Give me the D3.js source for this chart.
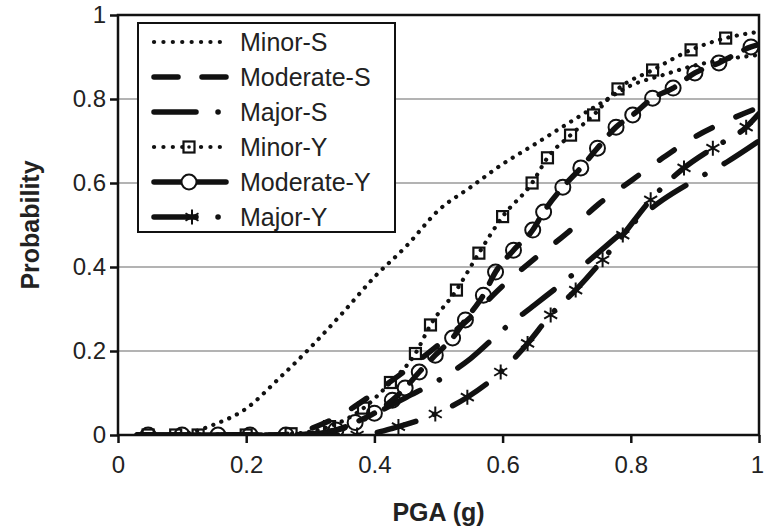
<!DOCTYPE html>
<html>
<head>
<meta charset="utf-8">
<script src="https://cdn.jsdelivr.net/npm/d3@7"></script>
<style>
  body { margin: 0; background: #fff; }
  svg { font-family: "Liberation Sans", Arial, sans-serif; }
</style>
</head>
<body>
<div id="chart"></div>
<script>
// ---- data ----
const seriesNames = ["Minor-S", "Moderate-S", "Major-S", "Minor-Y", "Moderate-Y", "Major-Y"];

// S curves share one PGA grid
const pgaS = [0.03, 0.05, 0.1, 0.15, 0.2, 0.25, 0.3, 0.35, 0.4, 0.45, 0.5, 0.55, 0.6, 0.65, 0.7, 0.75, 0.8, 0.85, 0.9, 0.95, 1.0];
const minorS    = [0, 0, 0.003, 0.025, 0.063, 0.133, 0.208, 0.29, 0.376, 0.45, 0.535, 0.59, 0.645, 0.692, 0.74, 0.787, 0.832, 0.857, 0.88, 0.895, 0.905];
const moderateS = [0, 0, 0, 0, 0, 0, 0.015, 0.05, 0.1, 0.155, 0.215, 0.28, 0.355, 0.42, 0.48, 0.55, 0.605, 0.66, 0.71, 0.748, 0.78];
const majorS    = [0, 0, 0, 0, 0, 0, 0.002, 0.015, 0.05, 0.09, 0.13, 0.182, 0.25, 0.31, 0.37, 0.435, 0.5, 0.56, 0.607, 0.65, 0.70];

// Y curves, at the marker positions
const pgaMinorY = [0.03, 0.047, 0.09, 0.125, 0.2, 0.27, 0.33, 0.383, 0.425, 0.464, 0.4875, 0.528, 0.563, 0.6, 0.646, 0.67, 0.706, 0.742, 0.78, 0.834, 0.894, 0.948, 1.0];
const minorY    = [0, 0, 0, 0, 0, 0.003, 0.02, 0.064, 0.125, 0.194, 0.262, 0.345, 0.433, 0.52, 0.6, 0.66, 0.714, 0.762, 0.824, 0.869, 0.917, 0.945, 0.96];

const pgaModY = [0.03, 0.047, 0.1, 0.156, 0.206, 0.262, 0.34, 0.37, 0.4, 0.428, 0.448, 0.47, 0.495, 0.522, 0.542, 0.57, 0.589, 0.617, 0.647, 0.664, 0.694, 0.722, 0.748, 0.777, 0.803, 0.834, 0.866, 0.9, 0.9375, 0.9875, 1.0];
const moderateY = [0, 0, 0, 0, 0, 0, 0.012, 0.03, 0.052, 0.083, 0.112, 0.15, 0.19, 0.231, 0.274, 0.333, 0.388, 0.44, 0.488, 0.531, 0.59, 0.636, 0.683, 0.733, 0.762, 0.802, 0.826, 0.862, 0.886, 0.924, 0.93];

const pgaMajY = [0.03, 0.31, 0.373, 0.4375, 0.495, 0.545, 0.597, 0.639, 0.675, 0.714, 0.756, 0.7875, 0.831, 0.883, 0.928, 0.98, 1.0];
const majorY  = [0, 0, 0, 0.02, 0.05, 0.09, 0.15, 0.218, 0.286, 0.345, 0.417, 0.476, 0.56, 0.636, 0.683, 0.733, 0.765];

const xTicks = [0, 0.2, 0.4, 0.6, 0.8, 1];
const yTicks = [0, 0.2, 0.4, 0.6, 0.8, 1];
const gridValues = [0.2, 0.4, 0.6, 0.8];

// ---- layout ----
const W = 764, H = 529;
const margin = { top: 15, left: 118, right: 5, bottom: 94 };
const width = W - margin.left - margin.right;
const height = H - margin.top - margin.bottom;

const svg = d3.select("#chart").append("svg")
    .attr("width", W)
    .attr("height", H);

const g = svg.append("g")
    .attr("transform", "translate(" + margin.left + "," + margin.top + ")");

const x = d3.scaleLinear().domain([0, 1]).range([0, width]);
const y = d3.scaleLinear().domain([0, 1]).range([height, 0]);

// gridlines
g.selectAll(".grid").data(gridValues).enter().append("line")
    .attr("x1", 0).attr("x2", width)
    .attr("y1", d => y(d)).attr("y2", d => y(d))
    .attr("stroke", "#9a9a9a")
    .attr("stroke-width", 1.5);

const fmt = d => (d === 0 || d === 1) ? String(d) : d.toFixed(1);

// axes
const xAxis = g.append("g")
    .attr("transform", "translate(0," + height + ")")
    .call(d3.axisBottom(x).tickValues(xTicks).tickFormat(fmt).tickSize(8).tickPadding(13));
const yAxis = g.append("g")
    .call(d3.axisLeft(y).tickValues(yTicks).tickFormat(fmt).tickSize(8).tickPadding(4));
[xAxis, yAxis].forEach(a => {
    a.select(".domain").remove();
    a.selectAll(".tick line").attr("stroke", "#111").attr("stroke-width", 2.5);
    a.selectAll(".tick text")
        .attr("fill", "#222")
        .style("font-size", "24px")
        .style("font-family", "Liberation Sans, Arial, sans-serif");
});
// keep the last x label inside the page
xAxis.selectAll(".tick text").filter(d => d === 1).attr("dx", "-2px");

// clip curves to plot
svg.append("defs").append("clipPath").attr("id", "plotclip")
    .append("rect").attr("x", 0).attr("y", -5).attr("width", width).attr("height", height + 5);

const plot = g.append("g").attr("clip-path", "url(#plotclip)");

const line = d3.line()
    .x(d => x(d[0]))
    .y(d => y(d[1]))
    .curve(d3.curveMonotoneX);

const zip = (xs, ys) => xs.map((v, i) => [v, ys[i]]);

const styles = {
    "Minor-S":    { w: 4.2, dash: "0.1 8.5" },
    "Moderate-S": { w: 5.5, dash: "18 26" },
    "Major-S":    { w: 5.5, dash: "40 22 0.1 22" },
    "Minor-Y":    { w: 4.2, dash: "0.1 8.5" },
    "Moderate-Y": { w: 5.5, dash: "17 15" },
    "Major-Y":    { w: 5.5, dash: "40 20 0.1 20" }
};

const curves = [
    { name: "Minor-S",    pts: zip(pgaS, minorS) },
    { name: "Moderate-S", pts: zip(pgaS, moderateS) },
    { name: "Major-S",    pts: zip(pgaS, majorS) },
    { name: "Minor-Y",    pts: zip(pgaMinorY, minorY), marker: "square" },
    { name: "Moderate-Y", pts: zip(pgaModY, moderateY), marker: "circle" },
    { name: "Major-Y",    pts: zip(pgaMajY, majorY), marker: "star" }
];

curves.forEach(c => {
    plot.append("path")
        .datum(c.pts)
        .attr("d", line)
        .attr("fill", "none")
        .attr("stroke", "#111")
        .attr("stroke-width", styles[c.name].w)
        .attr("stroke-linecap", "round")
        .attr("stroke-dasharray", styles[c.name].dash);
});

// markers
function drawMarker(sel, type, cx, cy, fill) {
    if (type === "square") {
        sel.append("rect")
            .attr("x", cx - 5.5).attr("y", cy - 5.5)
            .attr("width", 11).attr("height", 11)
            .attr("fill", fill || "none")
            .attr("stroke", "#111").attr("stroke-width", 2.2);
    } else if (type === "circle") {
        sel.append("circle")
            .attr("cx", cx).attr("cy", cy).attr("r", 7.5)
            .attr("fill", fill || "none")
            .attr("stroke", "#111").attr("stroke-width", 2);
    } else {
        const r = 7.5;
        let p = "";
        [90, 30, 150].forEach(a => {
            const t = a * Math.PI / 180;
            p += "M" + (cx - r * Math.cos(t)) + "," + (cy - r * Math.sin(t)) +
                 "L" + (cx + r * Math.cos(t)) + "," + (cy + r * Math.sin(t));
        });
        sel.append("path").attr("d", p)
            .attr("stroke", "#111").attr("stroke-width", 2).attr("fill", "none");
    }
}

curves.filter(c => c.marker).forEach(c => {
    const mg = plot.append("g");
    c.pts.slice(1, -1).forEach(d => drawMarker(mg, c.marker, x(d[0]), y(d[1])));
});

// frame
g.append("rect")
    .attr("x", 0).attr("y", 0)
    .attr("width", width).attr("height", height)
    .attr("fill", "none")
    .attr("stroke", "#111")
    .attr("stroke-width", 2.5);

// axis titles
svg.append("text")
    .attr("x", margin.left + width / 2)
    .attr("y", 521)
    .attr("text-anchor", "middle")
    .style("font-size", "25px")
    .style("font-weight", "bold")
    .attr("fill", "#222")
    .text("PGA (g)");

svg.append("text")
    .attr("transform", "translate(39," + (margin.top + height / 2) + ") rotate(-90)")
    .attr("text-anchor", "middle")
    .style("font-size", "25px")
    .style("font-weight", "bold")
    .attr("fill", "#222")
    .text("Probability");

// legend
const leg = svg.append("g").attr("transform", "translate(138,23)");
leg.append("rect")
    .attr("width", 257).attr("height", 209)
    .attr("fill", "#fff")
    .attr("stroke", "#111").attr("stroke-width", 2);

const legDash = {
    "Minor-S":    { d: "0.1 9.3", x1: 16, x2: 88 },
    "Moderate-S": { d: "24 24",   x1: 16, x2: 88 },
    "Major-S":    { d: "42 22 0.1 40", x1: 16, x2: 81 },
    "Minor-Y":    { d: "0.1 9.3", x1: 16, x2: 88 },
    "Moderate-Y": { d: null,      x1: 16, x2: 88 },
    "Major-Y":    { d: "42 22 0.1 40", x1: 16, x2: 81 }
};

seriesNames.forEach((name, i) => {
    const cy = 19 + i * 35;
    const row = leg.append("g");
    const s = legDash[name];
    row.append("line")
        .attr("x1", s.x1).attr("x2", s.x2)
        .attr("y1", cy).attr("y2", cy)
        .attr("stroke", "#111")
        .attr("stroke-width", styles[name].w)
        .attr("stroke-linecap", "round")
        .attr("stroke-dasharray", s.d);
    const c = curves.find(k => k.name === name);
    if (c.marker) {
        const mx = c.marker === "star" ? 54 : 51;
        drawMarker(row, c.marker, mx, cy, c.marker === "star" ? null : "#fff");
        if (c.marker === "square") {
            row.append("circle").attr("cx", mx).attr("cy", cy).attr("r", 1.8).attr("fill", "#111");
        }
    }
    row.append("text")
        .attr("x", 102).attr("y", cy)
        .attr("dy", "0.35em")
        .style("font-size", "25px")
        .attr("fill", "#222")
        .text(name);
});
</script>
</body>
</html>
